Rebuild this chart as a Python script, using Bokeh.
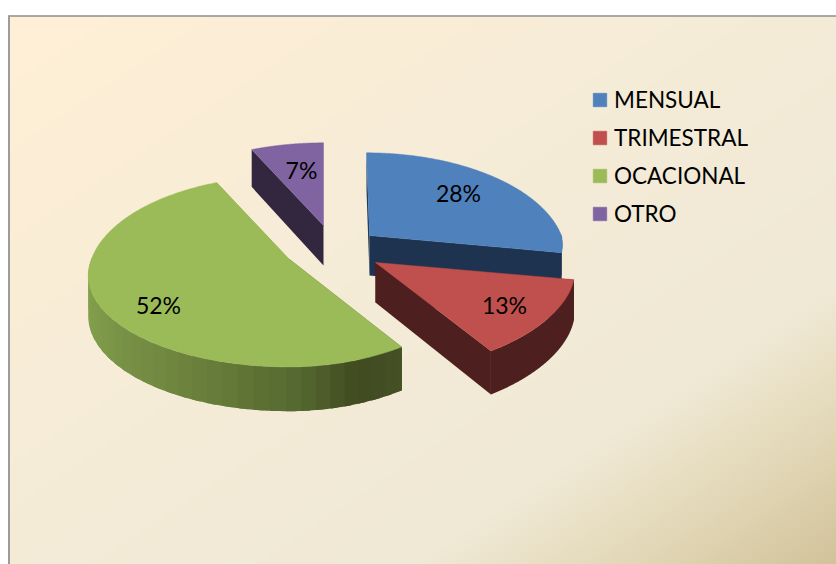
import numpy as np
from bokeh.plotting import figure
from bokeh.embed import file_html
from bokeh.resources import INLINE
from bokeh.models import Legend, LegendItem
from bokeh.core.properties import value

# data
categories = ["MENSUAL", "TRIMESTRAL", "OCACIONAL", "OTRO"]
percent = [28, 13, 52, 7]

# style / layout
top_colors = ["#4f81bd", "#c0504d", "#9bbb59", "#8064a2"]
side_colors = ["#1d3350", "#4d1f1e", None, "#33263f"]
apex_x = [369, 375, 288, 323]
apex_y = [235, 262, 258, 225]
skew = [3, 0, 0, 0]
right_scale = [0.985, 1.02, 1.0, 1.0]
label_x = [458, 504, 158, 301]
label_y = [192, 304, 304, 169]
draw_order = [3, 0, 2, 1]
FONT = "Lato"
A, B_BACK, B_FRONT, C, P, DEPTH = 207.0, 103.0, 93.0, 1.052, 0.194, 40.0

W, H = 836, 564
p = figure(width=W, height=H, x_range=(0, 836), y_range=(564, 0),
           output_backend="svg", toolbar_location=None, min_border=0,
           x_axis_type=None, y_axis_type=None, outline_line_color=None,
           background_fill_color="white", border_fill_color="white")
p.xgrid.visible = False
p.ygrid.visible = False

# background gradient
gw, gh = 207, 137
yy, xx = np.mgrid[0:gh, 0:gw]
t = (xx / (gw - 1) + yy / (gh - 1)) / 2
stops_t = [0, 0.12, 0.45, 0.75, 0.88, 1.0]
stops = [(255, 240, 214), (253, 238, 214), (245, 236, 216), (240, 233, 213), (226, 215, 182), (210, 195, 155)]
img = np.zeros((gh, gw), dtype=np.uint32)
view = img.view(dtype=np.uint8).reshape((gh, gw, 4))
for i in range(3):
    view[:, :, i] = np.interp(t, stops_t, [s[i] for s in stops]).astype(np.uint8)
view[:, :, 3] = 255
p.image_rgba(image=[img], x=9, y=16, dw=827, dh=548)
p.segment(x0=[8], y0=[15.5], x1=[836], y1=[15.5], line_color="#8c8c8c", line_width=1.5)
p.segment(x0=[8.5], y0=[15], x1=[8.5], y1=[564], line_color="#9c9c9c", line_width=2)


def proj(i, theta):
    Z, X = np.cos(theta), np.sin(theta)
    s = 1 / (C + P * Z)
    b = np.where(Z > 0, B_BACK, B_FRONT)
    d = DEPTH * (1 + 0.5 * (s - 0.95))
    m = np.where(X > 0, 0.99 * right_scale[i] * (1 + 0.10 * np.minimum(Z, 0)), 1.0)
    return apex_x[i] + A * X * s * m - skew[i] * Z, apex_y[i] - b * Z * s, d


def hexc(c):
    return [int(c[j:j + 2], 16) for j in (1, 3, 5)]


green_deg = [270, 235, 205, 175, 160, 147.6]
green_cols = ["#8aa850", "#7d9849", "#6e843e", "#556730", "#404b21", "#465126"]


def shade(deg):
    return "#%02x%02x%02x" % tuple(
        int(np.interp(deg, green_deg[::-1], [hexc(c)[k] for c in green_cols[::-1]])) for k in range(3))


cum = np.cumsum([0] + percent) / 100 * 2 * np.pi
tops = {}
for i in draw_order:
    a0, a1 = cum[i], cum[i + 1]
    th = np.linspace(a0, a1, 240)
    rx, ry, rd = proj(i, th)
    ax, ay = apex_x[i], apex_y[i]
    col = side_colors[i]
    # radial walls
    for k in (0, -1):
        wc = col if col else shade(np.degrees(th[k]))
        p.patch([ax, rx[k], rx[k], ax], [ay, ry[k], ry[k] + rd[k], ay + DEPTH],
                fill_color=wc, line_color=None)
    # outer side
    front = np.where(np.cos(th) < 0.02)[0]
    if len(front):
        if col:
            p.patch(np.r_[rx[front], rx[front][::-1]], np.r_[ry[front], (ry + rd)[front][::-1]],
                    fill_color=col, line_color=None)
        else:
            step = 5
            for s0 in range(len(front) - 1, 0, -step):
                seg = front[max(s0 - step - 3, 0):s0 + 1]
                c = shade(np.degrees(th[seg].mean()))
                p.patch(np.r_[rx[seg], rx[seg][::-1]], np.r_[ry[seg], (ry + rd)[seg][::-1]],
                        fill_color=c, line_color=None)
    tops[i] = p.patch(np.r_[ax, rx], np.r_[ay, ry], fill_color=top_colors[i],
                      line_color=top_colors[i], line_width=0.5)

p.text(x=label_x, y=label_y, text=[f"{v}%" for v in percent], text_align="center",
       text_baseline="middle", text_color="black", text_font=value(FONT), text_font_size="23px")

legend = Legend(items=[LegendItem(label=categories[i], renderers=[tops[i]]) for i in range(4)],
                location=(591, 337), orientation="vertical", padding=0, margin=0,
                spacing=11, glyph_width=17, glyph_height=17, label_standoff=6,
                label_height=20, label_text_font=FONT, label_text_font_size="22.5px",
                label_text_color="black", background_fill_alpha=0, border_line_color=None)
p.add_layout(legend, "center")

open("out.html", "w").write(file_html(p, INLINE))
